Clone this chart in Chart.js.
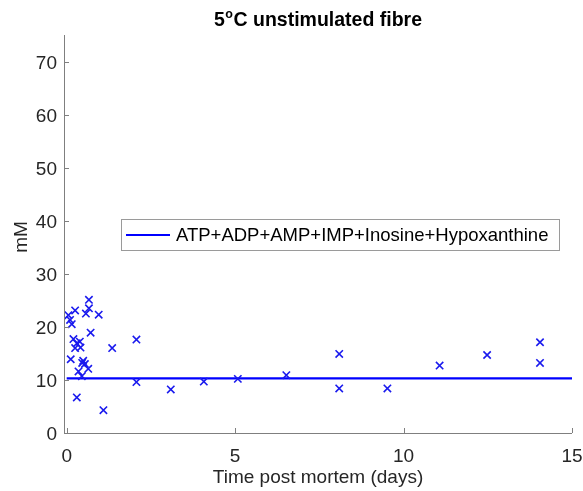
<!DOCTYPE html>
<html>
<head>
<meta charset="utf-8">
<script src="https://cdn.jsdelivr.net/npm/chart.js@4/dist/chart.umd.min.js"></script>
<style>
html,body{margin:0;padding:0;background:#fff;}
#c{display:block;}
</style>
</head>
<body>
<canvas id="c" width="583" height="491"></canvas>
<script>
// ---- data ----
const days = [0.05,0.10,0.15,0.12,0.25,0.20,0.30,0.39,0.25,0.41,0.35,0.30,0.49,0.54,0.46,0.64,0.45,0.66,0.66,0.57,0.71,0.95,1.09,1.35,2.07,2.07,3.09,4.07,5.08,6.52,8.09,8.09,9.52,11.07,12.48,14.05,14.05];
const mM   = [22.2,21.3,20.5,13.9,23.1,17.7,16.9,17.2,16.0,16.1,11.6,6.7,13.6,13.0,13.2,12.1,10.7,25.1,23.5,22.5,18.9,22.3,4.3,16.0,17.6,9.6,8.2,9.7,10.2,10.9,14.9,8.4,8.4,12.7,14.7,17.1,13.2];
const lineX = [0, 15];
const lineY = [10.3, 10.3];
const xTicks = [0,5,10,15];
const yTicks = [0,10,20,30,40,50,60,70];
const seriesLabel = 'ATP+ADP+AMP+IMP+Inosine+Hypoxanthine';
const titleParts = ['5','o','C unstimulated fibre'];
const xLabel = 'Time post mortem (days)';
const yLabel = 'mM';

const FONT = '"Liberation Sans", Arial, Helvetica, sans-serif';
const TXT = '#262626';
const AX = '#7f7f7f';
const BLUE = '#0000ff';

const scatterPts = days.map((d,i)=>({x:d,y:mM[i]}));
const linePts = lineX.map((d,i)=>({x:d,y:lineY[i]}));

const decor = {
  id:'decor',
  afterDraw(chart){
    const ctx = chart.ctx, xs = chart.scales.x, ys = chart.scales.y, a = chart.chartArea;
    ctx.save();
    // axes
    ctx.strokeStyle = AX; ctx.lineWidth = 1;
    ctx.beginPath();
    ctx.moveTo(a.left+0.5, a.top); ctx.lineTo(a.left+0.5, a.bottom+0.5); ctx.lineTo(a.right, a.bottom+0.5);
    ctx.stroke();
    // inward ticks
    ctx.beginPath();
    xTicks.forEach(v=>{const p=Math.round(xs.getPixelForValue(v))+0.5; ctx.moveTo(p,a.bottom); ctx.lineTo(p,a.bottom-5);});
    yTicks.forEach(v=>{const p=Math.round(ys.getPixelForValue(v))+0.5; ctx.moveTo(a.left,p); ctx.lineTo(a.left+5,p);});
    ctx.stroke();
    // title with superscript
    ctx.fillStyle = '#000';
    ctx.textBaseline = 'alphabetic';
    const bf = 'bold 19.5px '+FONT, sf = 'bold 12.5px '+FONT;
    ctx.font = bf; const w1 = ctx.measureText(titleParts[0]).width, w3 = ctx.measureText(titleParts[2]).width;
    ctx.font = sf; const w2 = ctx.measureText(titleParts[1]).width + 1;
    const cx = (a.left+a.right)/2; let tx = cx - (w1+w2+w3)/2; const ty = 26;
    ctx.font = bf; ctx.textAlign='left'; ctx.fillText(titleParts[0], tx, ty); tx += w1;
    ctx.font = sf; ctx.fillText(titleParts[1], tx+0.5, ty-8.5); tx += w2;
    ctx.font = bf; ctx.fillText(titleParts[2], tx, ty);
    // axis labels
    ctx.fillStyle = TXT;
    ctx.font = '19px '+FONT; ctx.textAlign='center'; ctx.textBaseline='middle';
    ctx.fillText(xLabel, cx, 478);
    ctx.save(); ctx.translate(22, (a.top+a.bottom)/2+3); ctx.rotate(-Math.PI/2); ctx.fillText(yLabel,0,0); ctx.restore();
    // legend
    const lx=121, ly=219, lw=438, lh=31;
    ctx.fillStyle='#fff'; ctx.fillRect(lx,ly,lw,lh);
    ctx.strokeStyle='#9a9a9a'; ctx.lineWidth=1; ctx.strokeRect(lx+0.5,ly+0.5,lw,lh);
    ctx.strokeStyle=BLUE; ctx.lineWidth=2; ctx.beginPath(); ctx.moveTo(126,235); ctx.lineTo(170,235); ctx.stroke();
    ctx.fillStyle='#000'; ctx.textAlign='left'; ctx.textBaseline='middle'; ctx.font='18.5px '+FONT;
    ctx.fillText(seriesLabel, 176, 235.5);
    ctx.restore();
  }
};

new Chart(document.getElementById('c'), {
  type:'scatter',
  data:{datasets:[
    {type:'line', label:seriesLabel, data:linePts, borderColor:BLUE, borderWidth:2.2, pointRadius:0, fill:false, order:2},
    {type:'scatter', label:'data', data:scatterPts, pointStyle:'crossRot', pointRadius:5.2, borderColor:'#1a1aee', backgroundColor:'#1a1aee', pointBorderWidth:1.6, borderWidth:1.6, order:1}
  ]},
  options:{
    responsive:false, animation:false, devicePixelRatio:1,
    layout:{autoPadding:false, padding:{top:35,right:11,left:0,bottom:0}},
    plugins:{legend:{display:false}, title:{display:false}, tooltip:{enabled:false}},
    scales:{
      x:{type:'linear', min:-0.08, max:15,
         afterFit(s){s.height=58; s.paddingLeft=0; s.paddingRight=0;},
         afterBuildTicks(s){s.ticks = xTicks.map(v=>({value:v}));},
         grid:{display:false, drawTicks:false}, border:{display:false},
         ticks:{color:TXT, font:{family:FONT,size:19}, padding:12, maxRotation:0, autoSkip:false}},
      y:{type:'linear', min:0, max:75,
         afterFit(s){s.width=64; s.paddingTop=0; s.paddingBottom=0;},
         afterBuildTicks(s){s.ticks = yTicks.map(v=>({value:v}));},
         grid:{display:false, drawTicks:false}, border:{display:false},
         ticks:{color:TXT, font:{family:FONT,size:19}, padding:7, labelOffset:2, autoSkip:false}}
    }
  },
  plugins:[decor]
});
</script>
</body>
</html>
